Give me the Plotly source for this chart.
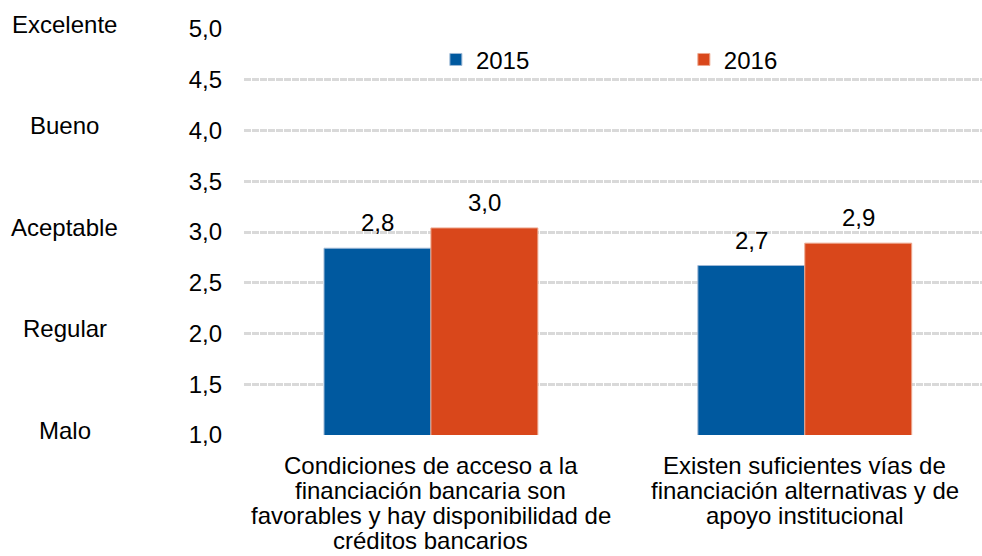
import plotly.graph_objects as go

categories = [
    "Condiciones de acceso a la<br>financiación bancaria son<br>favorables y hay disponibilidad de<br>créditos bancarios",
    "Existen suficientes vías de<br>financiación alternativas y de<br>apoyo institucional",
]
values_2015 = [2.84, 2.67]
values_2016 = [3.04, 2.89]
scale_labels = ["Excelente", "Bueno", "Aceptable", "Regular", "Malo"]
scale_values = [5, 4, 3, 2, 1]

FONT = "Liberation Sans, Arial, sans-serif"
FS = 24
BAR_HALF = 53.5  # media anchura de barra en px, para centrar las etiquetas

fig = go.Figure()
fig.add_trace(go.Bar(name="2015", x=categories, y=values_2015, legend="legend",
                     marker=dict(color="#00599F", line=dict(color="#9DB8D6", width=1))))
fig.add_trace(go.Bar(name="2016", x=categories, y=values_2016, legend="legend2",
                     marker=dict(color="#D9471B", line=dict(color="#EDA88F", width=1))))

# etiquetas de valor sobre las barras
for vals, side in [(values_2015, -1), (values_2016, 1)]:
    for cat, v in zip(categories, vals):
        fig.add_annotation(text=f"{v:.1f}".replace(".", ","), x=cat, y=v, xref="x", yref="y",
                           xshift=side * BAR_HALF, yshift=10, yanchor="bottom",
                           showarrow=False, font=dict(size=FS, color="black"))

# etiquetas de categoria bajo el eje (interlineado ajustado)
for cat in categories:
    for i, line in enumerate(cat.split("<br>")):
        fig.add_annotation(text=line, x=cat, y=0, xref="x", yref="paper",
                           yanchor="middle", yshift=-(30 + 25 * i),
                           showarrow=False, font=dict(size=FS, color="black"))

# etiquetas cualitativas a la izquierda del eje
for lab, val in zip(scale_labels, scale_values):
    fig.add_annotation(text=lab, xref="paper", yref="y", x=-0.243, y=val,
                       xanchor="center", yanchor="middle", yshift=5,
                       showarrow=False, font=dict(size=FS, color="black"))

leg = dict(orientation="h", yanchor="middle", y=0.924, xanchor="left",
           font=dict(size=FS), bgcolor="rgba(0,0,0,0)", itemclick=False,
           itemdoubleclick=False)
fig.update_layout(
    width=982, height=556,
    margin=dict(l=244, r=0, t=29, b=121),
    plot_bgcolor="white", paper_bgcolor="white",
    font=dict(family=FONT, size=FS, color="black"),
    separators=", ",
    barmode="group", bargap=0.428, bargroupgap=0,
    showlegend=True,
    legend=dict(leg, x=0.26),
    legend2=dict(leg, x=0.596),
)
fig.update_yaxes(range=[1, 5], dtick=0.5, tickformat=".1f", automargin=False,
                 showgrid=True, gridcolor="#D9D9D9", gridwidth=3, griddash="7px,1px",
                 zeroline=False, showline=False, ticks="", ticklabelstandoff=21,
                 tickfont=dict(size=FS))
fig.update_xaxes(range=[-0.5, 1.474], showgrid=False, showline=False, ticks="",
                 showticklabels=False, automargin=False)

fig.write_html("out.html", config={"displayModeBar": False},
               post_script="document.body.style.margin='0';")
